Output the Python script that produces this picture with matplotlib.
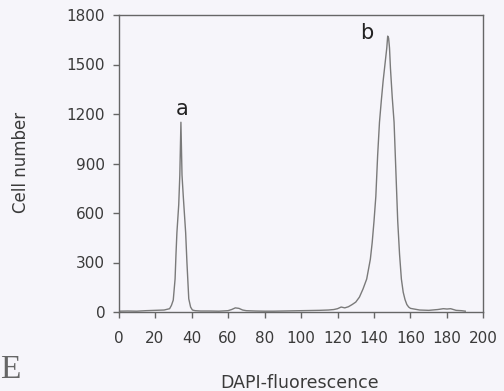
import matplotlib
matplotlib.use("Agg")
import matplotlib.pyplot as plt

# DAPI fluorescence histogram (outline)
fluor = [0, 5, 10, 15, 20, 25, 28, 29, 30, 31, 31.5, 32, 33, 33.6, 34.2, 34.8,
         35.5, 36.8, 37.5, 38.5, 39.5, 40.5, 42, 45, 50, 55, 60, 62, 64, 66, 68,
         70, 75, 80, 85, 90, 95, 100, 105, 110, 115, 118, 120, 122, 124, 126,
         128, 130, 132, 134, 136, 138, 139, 140, 141, 142, 143, 144, 145, 146,
         147, 147.5, 148, 148.5, 149, 150, 151, 152, 153, 154, 155, 156, 157,
         158, 159, 160, 162, 165, 170, 175, 178, 180, 182, 185, 188, 190]
cells = [5, 6, 5, 8, 10, 12, 20, 40, 72, 200, 350, 480, 650, 830, 1150, 830,
         700, 480, 300, 80, 30, 12, 8, 6, 6, 5, 8, 15, 25, 22, 12,
         8, 6, 5, 5, 6, 7, 8, 9, 10, 12, 15, 20, 30, 25, 32,
         45, 60, 90, 140, 200, 320, 420, 550, 700, 950, 1150, 1280, 1400, 1500,
         1600, 1672, 1660, 1600, 1480, 1300, 1150, 850, 550, 350, 200, 120, 75,
         45, 30, 22, 18, 12, 10, 15, 20, 18, 20, 10, 8, 5]

xticks = list(range(0, 201, 20))
yticks = list(range(0, 1801, 300))
peak_labels = ["a", "b"]
peak_label_pos = [(34.6, 1231), (136.2, 1690)]

bg = "#f6f5fa"
txt = "#3a3a3a"

fig = plt.figure(figsize=(5.04, 3.91), dpi=100, facecolor=bg)
ax = fig.add_axes([118.5 / 504, 1 - 312 / 391, 365 / 504, 297 / 391])
ax.set_facecolor(bg)

ax.plot(fluor, cells, color="#7a7a7a", lw=1.0)

ax.set_xlim(0, 200)
ax.set_ylim(0, 1800)
ax.set_xticks(xticks)
ax.set_yticks(yticks)
ax.tick_params(axis="both", direction="out", length=4.5, width=1.0,
               color="#666666", labelcolor=txt, labelsize=11)
ax.tick_params(axis="x", pad=9.5)
ax.tick_params(axis="y", pad=5)
for s in ax.spines.values():
    s.set_color("#666666")
    s.set_linewidth(1.0)

for lab, (x, y) in zip(peak_labels, peak_label_pos):
    ax.text(x, y, lab, ha="center", va="center", fontsize=15, color="#222222")

fig.text(300 / 504, 3 / 391, "DAPI-fluorescence", ha="center", va="baseline",
         fontsize=12.5, color=txt)
fig.text(21 / 504, 1 - 162.5 / 391, "Cell number", rotation=90, ha="center",
         va="center", fontsize=12, color=txt)
fig.text(0.5 / 504, 1 - 378 / 391, "E", family="Liberation Serif", fontsize=24,
         color="#666666", ha="left", va="baseline")

fig.savefig("out.png", dpi=100, facecolor=bg)
